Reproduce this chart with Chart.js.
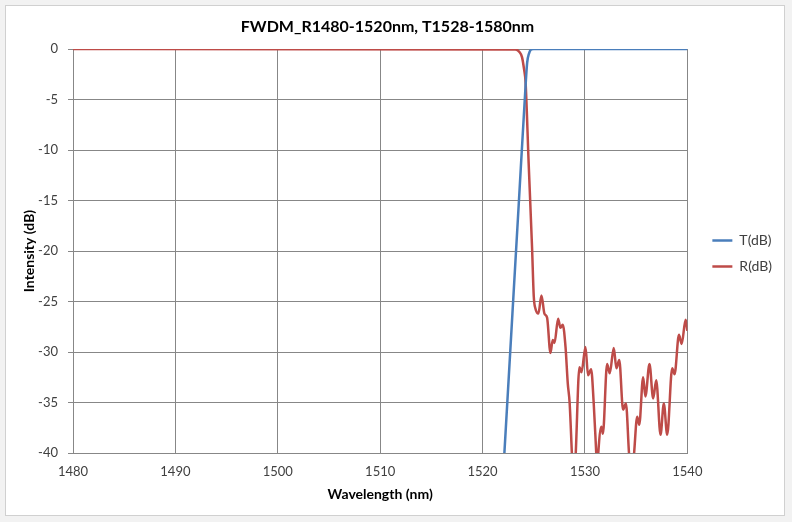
<!DOCTYPE html>
<html>
<head>
<meta charset="utf-8">
<script src="https://cdn.jsdelivr.net/npm/chart.js@4"></script>
<style>
    html, body { margin: 0; padding: 0; background: #f2f2f2; }
    #frame {
        position: absolute; left: 5px; top: 5px;
        width: 780px; height: 511px;
        box-sizing: border-box;
        border: 1px solid #d0d0d0;
        background: #ffffff;
    }
    canvas { display: block; }
</style>
</head>
<body>
<div id="frame"><canvas id="chart" width="778" height="509"></canvas></div>
<script>
// Transmission port, wavelength (nm) / intensity (dB)
const tWavelength = [1522.0, 1522.13, 1523.53, 1524.12, 1524.35, 1524.55, 1524.75, 1525.0, 1540.0];
const tIntensity  = [-42.3, -40.0, -15.4, -5.0, -1.4, -0.4, -0.05, 0, 0];

// Reflection port, wavelength (nm) / intensity (dB)
const rWavelength = [
    1480, 1523.2, 1523.6, 1523.85, 1524.05, 1524.2, 1524.5, 1524.83, 1525.0, 1525.16,
    1525.45, 1525.75, 1526.04, 1526.3, 1526.63, 1526.85, 1527.02, 1527.38, 1527.6, 1527.83,
    1528.1, 1528.32, 1528.5, 1528.72, 1528.9, 1529.1, 1529.46, 1529.66, 1530.05, 1530.3,
    1530.6, 1530.85, 1531.1, 1531.2, 1531.3, 1531.6, 1531.75, 1532.16, 1532.42, 1532.81,
    1533.07, 1533.35, 1533.72, 1534.0, 1534.3, 1534.55, 1534.8, 1535.1, 1535.3, 1535.68,
    1535.9, 1536.3, 1536.66, 1536.96, 1537.38, 1537.7, 1538.03, 1538.52, 1538.75, 1539.18,
    1539.44, 1539.83, 1540
];
const rIntensity = [
    0, -0.05, -0.3, -0.8, -2.0, -3.3, -11.3, -19.6, -24.5, -25.7,
    -26.2, -24.4, -26.2, -26.6, -30.1, -28.8, -29.1, -26.7, -27.6, -27.3,
    -29.5, -33.1, -35.0, -40.0, -44.0, -40.0, -31.5, -32.0, -29.5, -32.3,
    -31.7, -35.0, -40.0, -42.0, -40.0, -37.4, -38.1, -31.2, -32.1, -29.6,
    -31.6, -30.8, -35.7, -35.1, -40.0, -43.0, -40.0, -36.4, -37.2, -32.5,
    -34.4, -31.2, -34.6, -32.8, -38.2, -35.1, -38.2, -31.6, -32.2, -28.3,
    -29.2, -26.8, -27.9
];

const xTicks = [1480, 1490, 1500, 1510, 1520, 1530, 1540];
const yTicks = [0, -5, -10, -15, -20, -25, -30, -35, -40];

const FONT = "Lato, 'Open Sans', sans-serif";
const GRID = '#878787';

// legend sits a little right of / above where Chart.js puts it
const LEGEND_DX = 13;
const LEGEND_DY = -7;

function toPoints(xs, ys) {
    return xs.map((x, i) => ({ x: x, y: ys[i] }));
}

const legendNudge = {
    id: 'legendNudge',
    afterLayout(chart) {
        const lg = chart.legend;
        if (!lg) return;
        lg.left += LEGEND_DX;
        lg.right += LEGEND_DX;
        lg.top += LEGEND_DY;
        lg.bottom += LEGEND_DY;
    }
};

const ctx = document.getElementById('chart').getContext('2d');

new Chart(ctx, {
    type: 'line',
    data: {
        datasets: [
            {
                label: 'T(dB)',
                data: toPoints(tWavelength, tIntensity),
                borderColor: '#4a7ebb',
                backgroundColor: '#4a7ebb',
                borderWidth: 2.5,
                pointRadius: 0,
                cubicInterpolationMode: 'monotone',
                clip: 0
            },
            {
                label: 'R(dB)',
                data: toPoints(rWavelength, rIntensity),
                borderColor: '#be4b48',
                backgroundColor: '#be4b48',
                borderWidth: 2.5,
                pointRadius: 0,
                cubicInterpolationMode: 'monotone',
                clip: 0
            }
        ]
    },
    options: {
        responsive: false,
        animation: false,
        layout: { padding: { left: 0, right: 15, top: 0, bottom: 0 } },
        plugins: {
            title: {
                display: true,
                text: 'FWDM_R1480-1520nm, T1528-1580nm',
                color: '#000000',
                font: { family: FONT, size: 16, weight: 'bold' },
                padding: { top: 11, bottom: 12.8 }
            },
            legend: {
                position: 'right',
                labels: {
                    usePointStyle: true,
                    pointStyle: 'line',
                    pointStyleWidth: 20,
                    padding: 12,
                    color: '#404040',
                    font: { family: FONT, size: 14 }
                }
            },
            tooltip: { enabled: false }
        },
        scales: {
            x: {
                type: 'linear',
                min: xTicks[0],
                max: xTicks[xTicks.length - 1],
                afterBuildTicks: s => { s.ticks = xTicks.map(v => ({ value: v })); },
                afterFit: s => { s.height = 62; },
                grid: { color: GRID, drawTicks: false },
                border: { color: GRID },
                ticks: {
                    padding: 11,
                    color: '#404040',
                    font: { family: FONT, size: 13 },
                    callback: v => String(v)
                },
                title: {
                    display: true,
                    text: 'Wavelength (nm)',
                    color: '#000000',
                    font: { family: FONT, size: 14, weight: 'bold' },
                    padding: { top: 0, bottom: 12 }
                }
            },
            y: {
                min: -40,
                max: 0,
                afterBuildTicks: s => { s.ticks = yTicks.map(v => ({ value: v })); },
                afterFit: s => { s.width = 67; },
                grid: { color: GRID, drawTicks: true, tickLength: 5, tickColor: GRID },
                border: { color: GRID },
                ticks: {
                    padding: 10,
                    color: '#404040',
                    font: { family: FONT, size: 13 },
                    callback: v => String(v)
                },
                title: {
                    display: true,
                    text: 'Intensity (dB)',
                    color: '#000000',
                    font: { family: FONT, size: 14, weight: 'bold' },
                    padding: { top: 15, bottom: 0 }
                }
            }
        }
    },
    plugins: [legendNudge]
});
</script>
</body>
</html>
